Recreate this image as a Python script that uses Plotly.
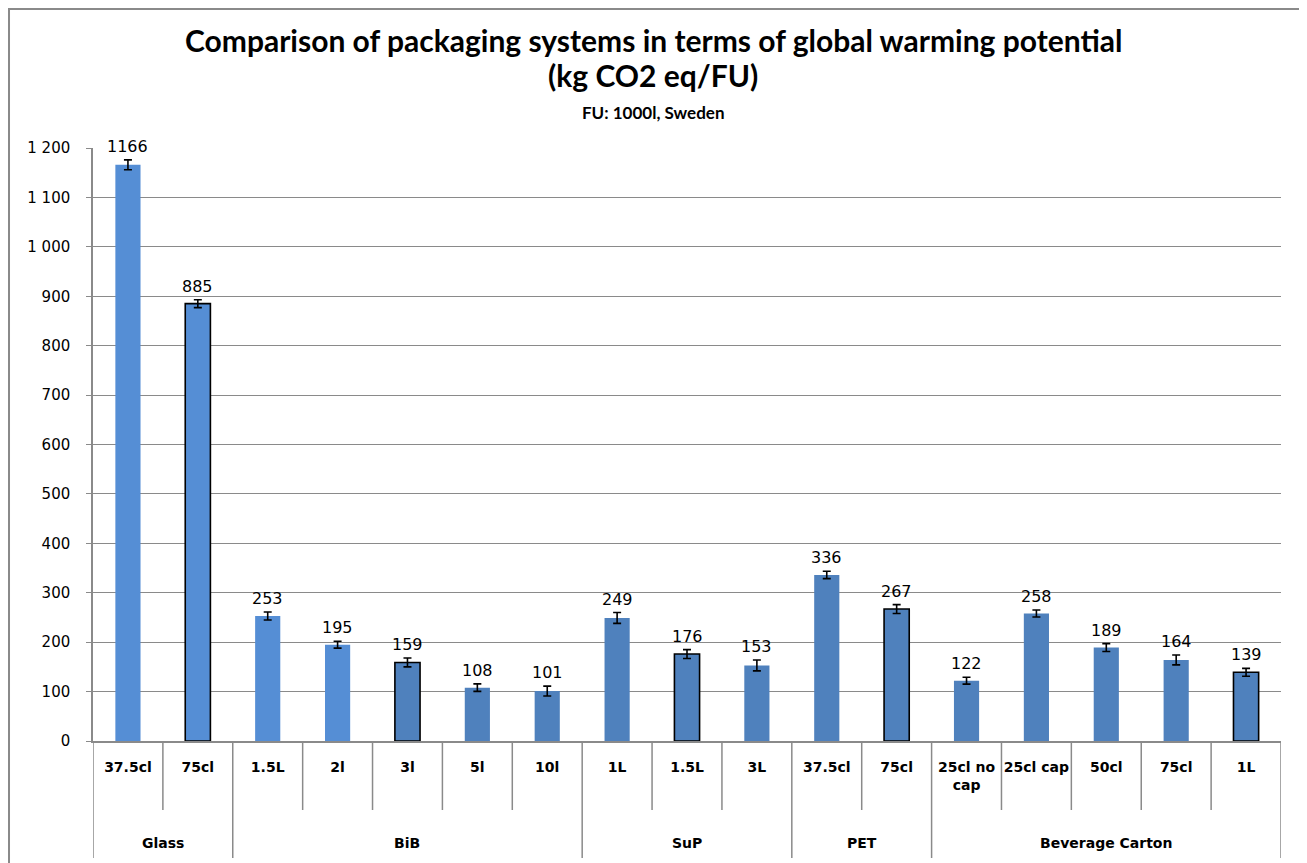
import plotly.graph_objects as go

# packaging groups and the size of each group (in order)
group_names = ['Glass', 'BiB', 'SuP', 'PET', 'Beverage Carton']
group_sizes = [2, 5, 3, 2, 5]

# one entry per bar
sizes = ['37.5cl', '75cl', '1.5L', '2l', '3l', '5l', '10l', '1L', '1.5L', '3L',
         '37.5cl', '75cl', '25cl no<br>cap', '25cl cap', '50cl', '75cl', '1L']
gwp = [1166, 885, 253, 195, 159, 108, 101, 249, 176, 153, 336, 267, 122, 258, 189, 164, 139]
gwp_err = [10, 8, 8, 7, 9, 7.5, 10, 11, 9, 11, 7.5, 9, 7, 7, 8, 10, 8]
highlighted = [0, 1, 0, 0, 1, 0, 0, 0, 1, 0, 0, 1, 0, 0, 0, 0, 1]
light_fill = [1, 1, 1, 1, 0, 0, 0, 0, 0, 0, 0, 0, 0, 0, 0, 0, 0]

y_ticks = list(range(0, 1201, 100))

GRID = '#8a8a8a'
LIGHT = '#558ED5'
DARK = '#4F81BD'
NUM_FONT = 'DejaVu Sans'
TITLE_FONT = 'Lato'

x = list(range(len(gwp)))
colors = [LIGHT if f else DARK for f in light_fill]

fig = go.Figure()

fig.add_trace(go.Bar(
    x=x,
    y=gwp,
    width=0.36,
    marker=dict(
        color=colors,
        line=dict(color=['black' if h else c for h, c in zip(highlighted, colors)],
                  width=[1.6 if h else 0 for h in highlighted])
    ),
    error_y=dict(type='data', array=gwp_err, symmetric=True,
                 color='black', thickness=1.6, width=4),
    showlegend=False,
    hoverinfo='skip'
))

annotations = []

# value labels above the error bars
for xi, v, e in zip(x, gwp, gwp_err):
    annotations.append(dict(
        x=xi, y=v + e, xref='x', yref='y', text=str(v), showarrow=False,
        yanchor='bottom', yshift=2, font=dict(family=NUM_FONT, size=16, color='black')
    ))

# group labels and separators below the axis
shapes = []
start = 0
bounds = [-0.5]
for name, n in zip(group_names, group_sizes):
    annotations.append(dict(
        x=start + (n - 1) / 2, y=-0.172, xref='x', yref='paper', text='<b>%s</b>' % name,
        showarrow=False, yanchor='middle', font=dict(family=NUM_FONT, size=14, color='black')
    ))
    for k in range(1, n):
        shapes.append(dict(type='line', xref='x', yref='paper',
                           x0=start + k - 0.5, x1=start + k - 0.5, y0=0, y1=-0.1164,
                           line=dict(color=GRID, width=1.5)))
    start += n
    bounds.append(start - 0.5)

for b in bounds:
    shapes.append(dict(type='line', xref='x', yref='paper', x0=b, x1=b, y0=0, y1=-0.1973,
                       line=dict(color=GRID, width=1.5)))

# chart frame (bottom edge falls outside the picture)
shapes.append(dict(type='rect', xref='paper', yref='paper', x0=-0.0707, x1=1.0177,
                   y0=-0.3, y1=1.2344, line=dict(color=GRID, width=2)))

# titles
title_lines = [
    ('Comparison of packaging systems in terms of global warming potential', 30, 1.1821),
    ('(kg CO2 eq/FU)', 30, 1.1231),
    ('FU: 1000l, Sweden', 17, 1.0607),
]
for txt, sz, yy in title_lines:
    annotations.append(dict(
        x=0.4718, y=yy, xref='paper', yref='paper', text='<b>%s</b>' % txt, showarrow=False,
        xanchor='center', yanchor='middle', font=dict(family=TITLE_FONT, size=sz, color='black')
    ))

fig.update_layout(
    width=1299,
    height=855,
    autosize=False,
    margin=dict(l=85, r=26, t=140, b=122),
    plot_bgcolor='white',
    paper_bgcolor='white',
    separators='. ',
    annotations=annotations,
    shapes=shapes,
    xaxis=dict(
        range=[-0.5, len(gwp) - 0.5],
        tickmode='array',
        tickvals=x,
        ticktext=['<b>%s</b>' % s for s in sizes],
        tickfont=dict(family=NUM_FONT, size=14, color='black'),
        ticks='',
        ticklabelstandoff=12,
        showgrid=False,
        showline=True,
        linecolor=GRID,
        linewidth=1.5,
        zeroline=False,
    ),
    yaxis=dict(
        range=[0, 1200],
        tickmode='array',
        tickvals=y_ticks,
        separatethousands=True,
        tickfont=dict(family=NUM_FONT, size=15, color='black'),
        ticks='outside',
        ticklen=5,
        tickcolor=GRID,
        ticklabelstandoff=13,
        showgrid=True,
        gridcolor=GRID,
        gridwidth=1.2,
        showline=True,
        linecolor=GRID,
        linewidth=1.5,
        zeroline=False,
    ),
)

fig.write_html('out.html')
